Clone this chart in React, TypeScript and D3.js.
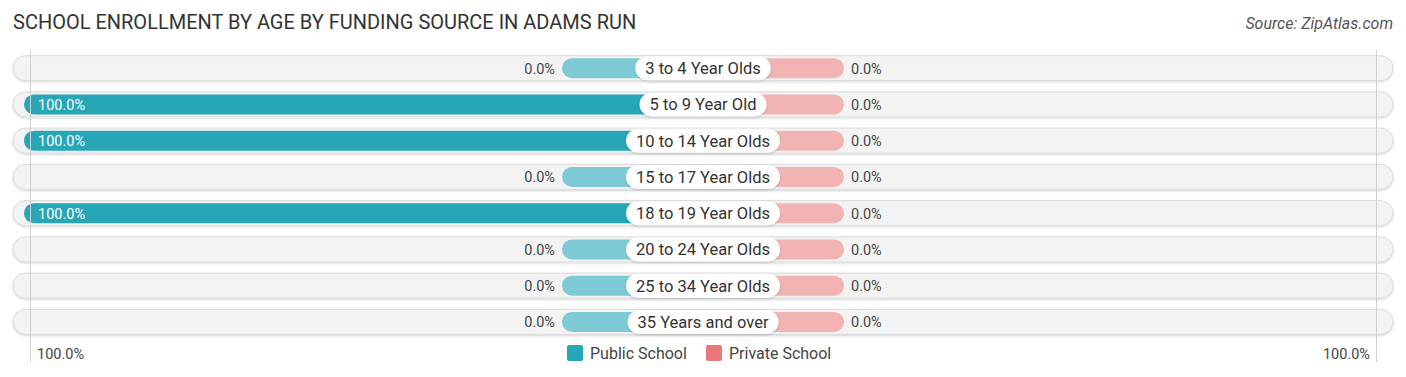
import React, { useEffect, useRef } from "react";
import * as d3 from "d3";

const categories = [
  "3 to 4 Year Olds",
  "5 to 9 Year Old",
  "10 to 14 Year Olds",
  "15 to 17 Year Olds",
  "18 to 19 Year Olds",
  "20 to 24 Year Olds",
  "25 to 34 Year Olds",
  "35 Years and over",
];
const publicValues = [0, 100, 100, 0, 100, 0, 0, 0];
const privateValues = [0, 0, 0, 0, 0, 0, 0, 0];
const legendLabels = ["Public School", "Private School"];

const W = 1406;
const H = 377;
const CX = 703;
const HALF = 679;
const STUB = 141;
const PUB = "#27a6b8";
const PUB_LIGHT = "#7fcbd5";
const PRIV = "#e9787a";
const PRIV_LIGHT = "#f2b3b3";
const FONT = "Roboto, 'Noto Sans', sans-serif";
const VFS = 14.5;

export default function App() {
  const ref = useRef<SVGSVGElement>(null);
  useEffect(() => {
    const svg = d3.select(ref.current);
    svg.selectAll("*").remove();

    const y = d3
      .scaleBand<string>()
      .domain(categories)
      .range([50, 340])
      .paddingInner(0)
      .paddingOuter(0);
    const xl = d3.scaleLinear().domain([0, 100]).range([0, HALF]);

    const defs = svg.append("defs");
    const f = defs.append("filter").attr("id", "sh").attr("x", "-5%").attr("y", "-30%").attr("width", "110%").attr("height", "160%");
    f.append("feDropShadow").attr("dx", 0).attr("dy", 1).attr("stdDeviation", 1).attr("flood-color", "#000").attr("flood-opacity", 0.18);

    svg.append("text").attr("x", 13).attr("y", 29).attr("font-family", FONT).attr("font-size", 20).attr("fill", "#333").text("SCHOOL ENROLLMENT BY AGE BY FUNDING SOURCE IN ADAMS RUN");
    svg.append("text").attr("x", 1393).attr("y", 29).attr("text-anchor", "end").attr("font-family", FONT).attr("font-style", "italic").attr("font-size", 16).attr("fill", "#555").text("Source: ZipAtlas.com");

    const g = svg.append("g");
    categories.forEach((c) => {
      const cy = (y(c) as number) + y.bandwidth() / 2;
      g.append("rect").attr("x", 13).attr("y", cy - 12.5).attr("width", 1380).attr("height", 25).attr("rx", 12.5).attr("fill", "#f3f3f3").attr("stroke", "#dcdcdc").attr("stroke-width", 1).attr("filter", "url(#sh)");
    });

    svg.append("line").attr("x1", 30.5).attr("x2", 30.5).attr("y1", 50).attr("y2", 362).attr("stroke", "#cfcfcf");
    svg.append("line").attr("x1", 1376.5).attr("x2", 1376.5).attr("y1", 50).attr("y2", 362).attr("stroke", "#cfcfcf");

    categories.forEach((c, i) => {
      const cy = (y(c) as number) + y.bandwidth() / 2;
      const pv = publicValues[i];
      const qv = privateValues[i];
      const bh = 20;
      const pw = pv > 0 ? xl(pv) : STUB;
      const qw = qv > 0 ? xl(qv) : STUB;
      g.append("rect").attr("x", CX - 10).attr("y", cy - bh / 2).attr("width", qw + 10).attr("height", bh).attr("rx", bh / 2).attr("fill", qv > 0 ? PRIV : PRIV_LIGHT);
      g.append("rect").attr("x", CX - pw).attr("y", cy - bh / 2).attr("width", pw).attr("height", bh).attr("rx", bh / 2).attr("fill", pv > 0 ? PUB : PUB_LIGHT);
      g.append("rect").attr("x", CX - 20).attr("y", cy - bh / 2).attr("width", 20).attr("height", bh).attr("fill", pv > 0 ? PUB : PUB_LIGHT);

      if (pv > 0) {
        g.append("text").attr("x", CX - pw + 14).attr("y", cy + 5.5).attr("font-family", FONT).attr("font-size", VFS).attr("fill", "#fff").text(pv.toFixed(1) + "%");
      } else {
        g.append("text").attr("x", CX - pw - 7).attr("y", cy + 5.5).attr("text-anchor", "end").attr("font-family", FONT).attr("font-size", VFS).attr("fill", "#444").text(pv.toFixed(1) + "%");
      }
      g.append("text").attr("x", CX + qw + 7).attr("y", cy + 5.5).attr("font-family", FONT).attr("font-size", VFS).attr("fill", "#444").text(qv.toFixed(1) + "%");

      const t = g.append("text").attr("x", CX).attr("y", cy + 6).attr("text-anchor", "middle").attr("font-family", FONT).attr("font-size", 16.5).attr("fill", "#333").text(c);
      const tw = (t.node() as SVGTextElement).getComputedTextLength();
      const pwid = tw + 20;
      g.insert("rect", () => t.node() as any).attr("x", CX - pwid / 2).attr("y", cy - 12).attr("width", pwid).attr("height", 24).attr("rx", 12).attr("fill", "#fff").attr("filter", "url(#sh)");
    });

    svg.append("text").attr("x", 37).attr("y", 358.5).attr("font-family", FONT).attr("font-size", VFS).attr("fill", "#444").text("100.0%");
    svg.append("text").attr("x", 1370).attr("y", 358.5).attr("text-anchor", "end").attr("font-family", FONT).attr("font-size", VFS).attr("fill", "#444").text("100.0%");

    const lg = svg.append("g");
    const colors = [PUB, PRIV];
    const lx = [567, 706];
    legendLabels.forEach((l, i) => {
      lg.append("rect").attr("x", lx[i]).attr("y", 345).attr("width", 16).attr("height", 16).attr("rx", 2).attr("fill", colors[i]);
      lg.append("text").attr("x", lx[i] + 23).attr("y", 358.5).attr("font-family", FONT).attr("font-size", 16).attr("fill", "#444").text(l);
    });
  }, []);
  return <svg ref={ref} width={W} height={H} style={{ display: "block", position: "absolute", left: 0, top: 0 }} />;
}
